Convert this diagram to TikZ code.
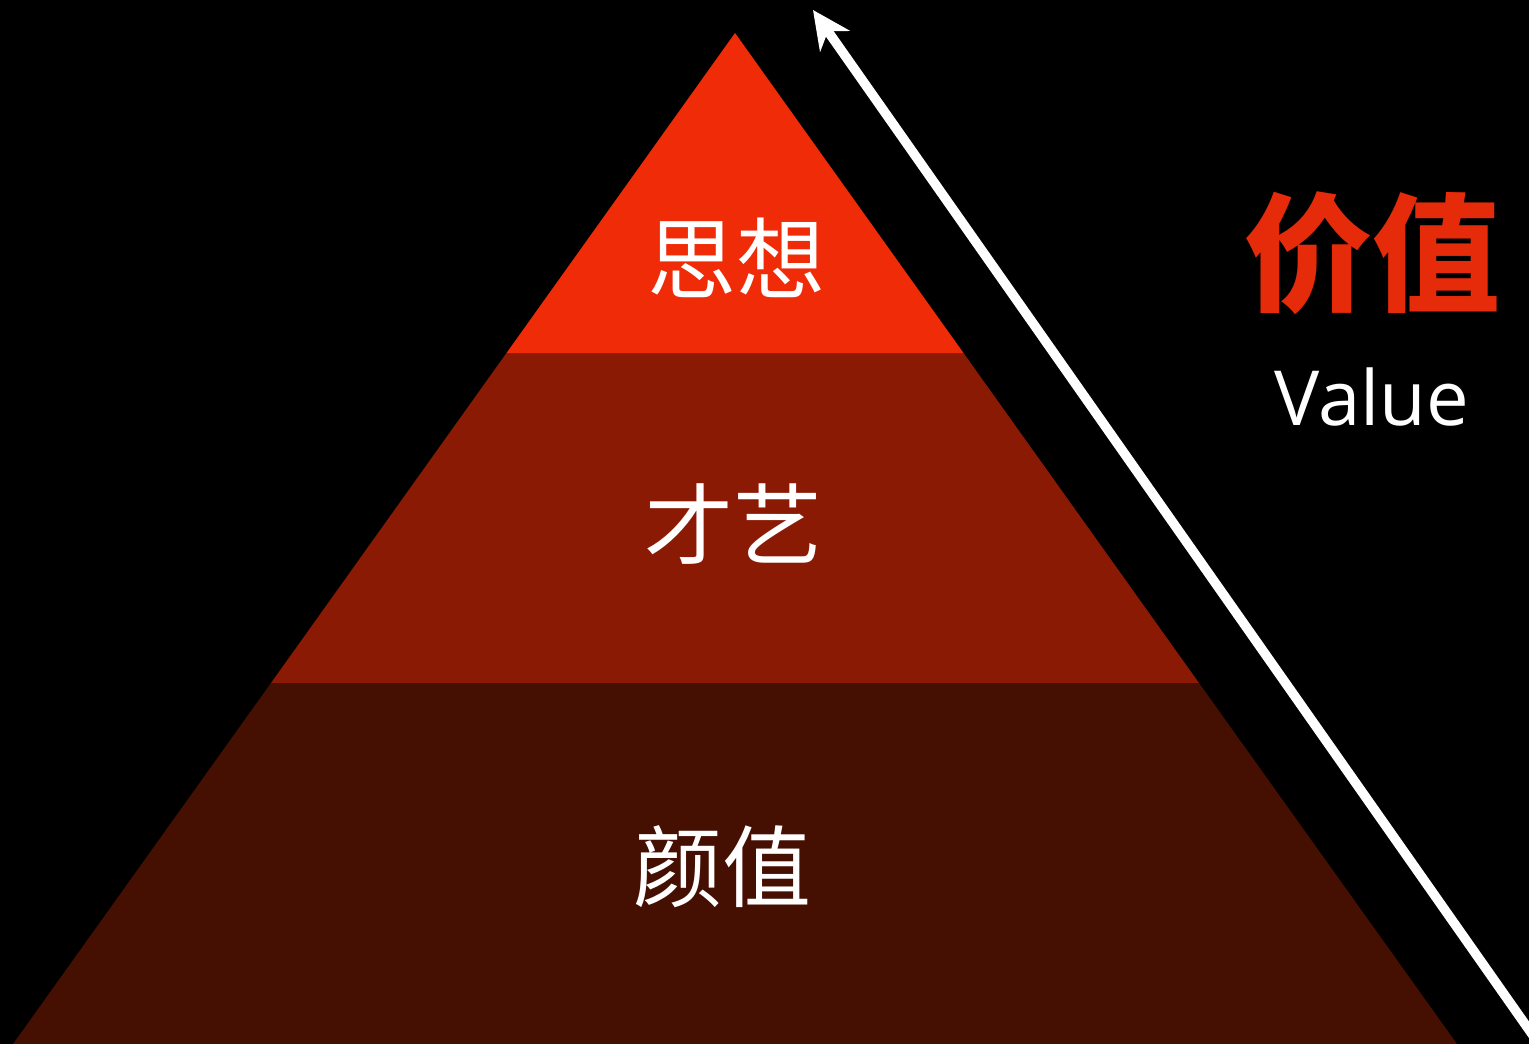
\documentclass[tikz,border=0pt]{standalone}
\usepackage{fontspec}
\setmainfont{Open Sans}
\newfontfamily\cjk{Noto Sans CJK SC}
\usetikzlibrary{arrows.meta}
\definecolor{topred}{HTML}{F02B08}
\definecolor{midred}{HTML}{8B1A04}
\definecolor{lowred}{HTML}{450F02}
\definecolor{titlered}{HTML}{E52B0A}
\tikzset{
  layertext/.style={text=white, font=\cjk\fontsize{89}{92}\selectfont, inner sep=0pt},
  valuearrow/.style={draw=white, line width=9.5pt, -{Stealth[length=38pt, width=36pt, inset=12pt]}}
}
\begin{document}
\begin{tikzpicture}[x=1pt,y=-1pt]
\fill[black] (0,0) rectangle (1529,1044);
\useasboundingbox (0,0) rectangle (1529,1044);
\clip (0,0) rectangle (1529,1044);
% pyramid layers
\fill[lowred] (271,683) -- (1199,683) -- (1457,1044) -- (13,1044) -- cycle;
\fill[midred] (506.5,353) -- (963.5,353) -- (1199,683) -- (271,683) -- cycle;
\fill[topred] (735,33) -- (963.5,353) -- (506.5,353) -- cycle;
% labels
\node[layertext] (sixiang) at (736,258) {思想};
\node[layertext] (caiyi) at (733,524) {才艺};
\node[layertext] (yanzhi) at (722,867) {颜值};
% arrow
\coordinate (arrowstart) at (1539,1044);
\coordinate (arrowtip) at (813,10);
\draw[valuearrow] (arrowstart) -- (arrowtip);
% title
\node[text=titlered, font=\cjk\bfseries\fontsize{128}{130}\selectfont, inner sep=0pt] (jiazhi) at (1372,253) {价值};
\node[text=white, font=\fontsize{76}{80}\selectfont, inner sep=0pt, anchor=base] (value) at (1372,425) {Value};
\end{tikzpicture}
\end{document}
